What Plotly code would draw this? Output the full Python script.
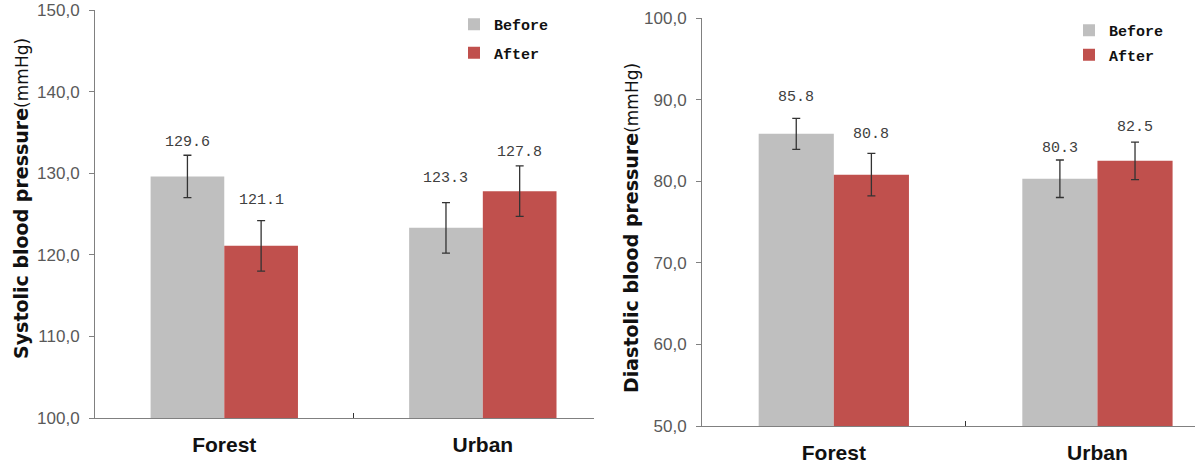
import plotly.graph_objects as go

categories = ["Forest", "Urban"]
series_names = ["Before", "After"]

sys_before = [129.6, 123.3]
sys_after = [121.1, 127.8]
sys_before_err = [2.6, 3.1]
sys_after_err = [3.1, 3.1]

dia_before = [85.8, 80.3]
dia_after = [80.8, 82.5]
dia_before_err = [1.9, 2.3]
dia_after_err = [2.6, 2.3]

sys_tickvals = [100, 110, 120, 130, 140, 150]
sys_ticktext = ["100,0", "110,0", "120,0", "130,0", "140,0", "150,0"]
dia_tickvals = [50, 60, 70, 80, 90, 100]
dia_ticktext = ["50,0", "60,0", "70,0", "80,0", "90,0", "100,0"]

# styles
GRAY = "#BFBFBF"
RED = "#C0504D"
BARGAP = 0.43
# pixel offsets of value labels above the error-bar tops (style)
sys_label_shift = {"Before": [13, 24], "After": [20, 13]}
dia_label_shift = {"Before": [21, 11], "After": [19, 15]}

W, H = 1198, 466
fig = go.Figure()

err_style = dict(type="data", color="#333333", thickness=1.3, width=4)

panels = [
    dict(xa="x", ya="y", legend="legend", before=sys_before, after=sys_after,
         be=sys_before_err, ae=sys_after_err, shift=sys_label_shift),
    dict(xa="x2", ya="y2", legend="legend2", before=dia_before, after=dia_after,
         be=dia_before_err, ae=dia_after_err, shift=dia_label_shift),
]

annotations = []
half = (1 - BARGAP) / 4
for p in panels:
    for name, vals, errs, color, off in [
        ("Before", p["before"], p["be"], GRAY, -half),
        ("After", p["after"], p["ae"], RED, half),
    ]:
        fig.add_trace(go.Bar(
            x=categories, y=vals, name=name, marker=dict(color=color, line=dict(width=0)),
            error_y=dict(array=errs, **err_style),
            xaxis=p["xa"], yaxis=p["ya"], legend=p["legend"], legendgroup=p["legend"] + name,
        ))
        for i, (v, e) in enumerate(zip(vals, errs)):
            annotations.append(dict(
                x=i + off, y=v + e, xref=p["xa"], yref=p["ya"], text=f"{v:.1f}",
                showarrow=False, xanchor="center", yanchor="middle",
                yshift=p["shift"][name][i],
                font=dict(family="Liberation Mono", size=15, color="#404040"),
            ))

# axis titles
title_font = dict(family="DejaVu Sans", size=19, color="#111111")
annotations.append(dict(
    x=21 / W, y=1 - 199 / H, xref="paper", yref="paper", textangle=-90, showarrow=False,
    xanchor="center", yanchor="middle",
    text="<b>Systolic blood pressure</b><span style='font-size:17px'>(mmHg)</span>",
    font=title_font,
))
annotations.append(dict(
    x=631 / W, y=1 - 228 / H, xref="paper", yref="paper", textangle=-90, showarrow=False,
    xanchor="center", yanchor="middle",
    text="<b>Diastolic blood pressure</b><span style='font-size:17px'>(mmHg)</span>",
    font=title_font,
))

yax_common = dict(showline=True, linecolor="#808080", linewidth=1, ticks="outside",
                  ticklen=5, tickcolor="#808080", showgrid=False, zeroline=False,
                  tickfont=dict(family="Liberation Sans", size=17, color="#595959"),
                  ticklabelstandoff=6, automargin=False)
xax_common = dict(showline=True, linecolor="#808080", linewidth=1, ticks="inside",
                  tickson="boundaries", ticklen=5, tickcolor="#333333", showgrid=False,
                  tickfont=dict(family="Liberation Sans", size=21, color="#111111",
                                weight="bold"),
                  type="category", automargin=False, ticklabelstandoff=8)

legend_font = dict(family="Liberation Mono", size=15, color="#111111", weight="bold")

fig.update_layout(
    width=W, height=H, margin=dict(l=0, r=0, t=0, b=0, autoexpand=False),
    paper_bgcolor="white", plot_bgcolor="white",
    barmode="group", bargap=BARGAP, bargroupgap=0,
    xaxis=dict(domain=[95 / W, 594 / W], range=[-0.5, 1.43], anchor="y", **xax_common),
    yaxis=dict(domain=[(H - 418) / H, (H - 10) / H], range=[100, 150], anchor="x",
               tickvals=sys_tickvals, ticktext=sys_ticktext, **yax_common),
    xaxis2=dict(domain=[702 / W, 1195 / W], range=[-0.5, 1.37], anchor="y2", **xax_common),
    yaxis2=dict(domain=[(H - 426) / H, (H - 18) / H], range=[50, 100], anchor="x2",
                tickvals=dia_tickvals, ticktext=dia_ticktext, **yax_common),
    legend=dict(x=454 / W, y=1 - 8 / H, xanchor="left", yanchor="top",
                font=legend_font, tracegroupgap=6, bgcolor="rgba(0,0,0,0)"),
    legend2=dict(x=1069 / W, y=1 - 14 / H, xanchor="left", yanchor="top",
                 font=legend_font, tracegroupgap=2, bgcolor="rgba(0,0,0,0)"),
    annotations=annotations,
    showlegend=True,
)

fig.write_html("out.html")
